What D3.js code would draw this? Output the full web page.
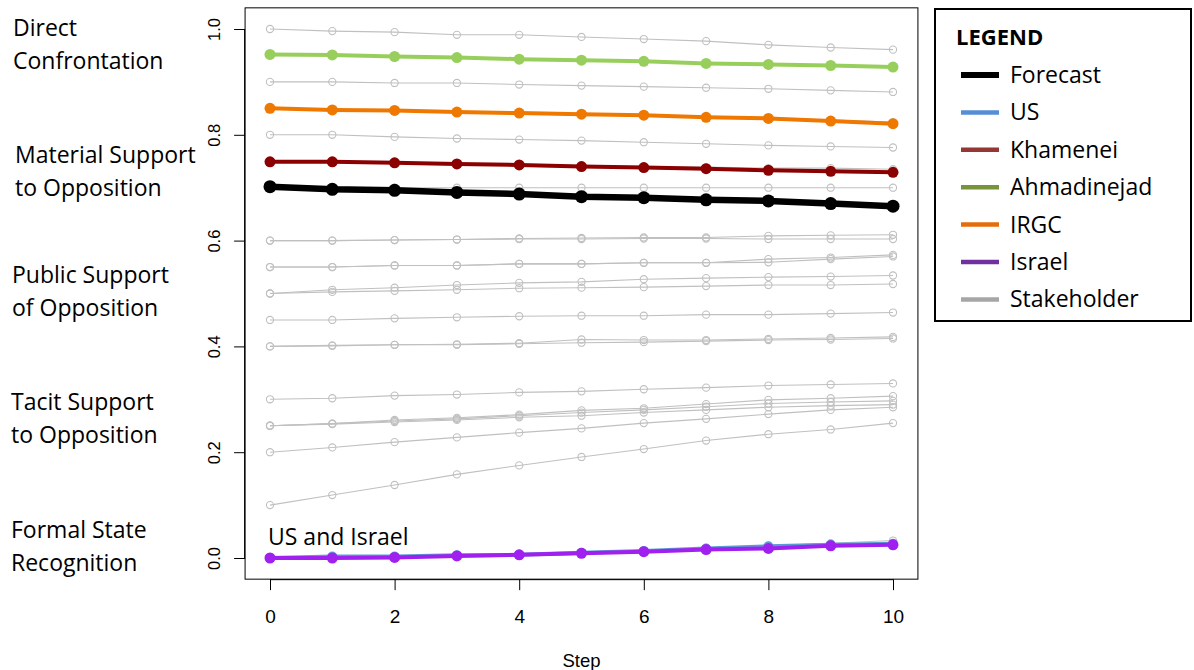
<!DOCTYPE html>
<html>
<head>
<meta charset="utf-8">
<script src="https://cdn.jsdelivr.net/npm/d3@7/dist/d3.min.js"></script>
<style>
  html, body { margin: 0; padding: 0; background: #fff; }
  svg { display: block; }
</style>
</head>
<body>
<svg id="chart" width="1194" height="670"></svg>
<script>
// ---------------- data ----------------
const steps = [0, 1, 2, 3, 4, 5, 6, 7, 8, 9, 10];
const xTicks = [0, 2, 4, 6, 8, 10];
const yTicks = [0.0, 0.2, 0.4, 0.6, 0.8, 1.0];

const forecast    = [0.702, 0.697, 0.695, 0.691, 0.688, 0.683, 0.681, 0.677, 0.675, 0.670, 0.665];
const usSeries    = [0.000, 0.003, 0.003, 0.005, 0.006, 0.010, 0.013, 0.018, 0.022, 0.025, 0.027];
const khamenei    = [0.749, 0.749, 0.747, 0.745, 0.743, 0.740, 0.738, 0.736, 0.733, 0.731, 0.729];
const ahmadinejad = [0.952, 0.951, 0.948, 0.946, 0.943, 0.941, 0.939, 0.935, 0.933, 0.931, 0.928];
const irgc        = [0.850, 0.847, 0.846, 0.843, 0.841, 0.839, 0.837, 0.833, 0.831, 0.826, 0.821];
const israel      = [0.000, 0.000, 0.001, 0.004, 0.006, 0.009, 0.012, 0.016, 0.018, 0.023, 0.025];

// stakeholder (gray) trajectories
const sh01 = [1.000, 0.996, 0.994, 0.989, 0.989, 0.985, 0.981, 0.977, 0.970, 0.965, 0.961];
const sh02 = [0.950, 0.950, 0.948, 0.946, 0.944, 0.942, 0.940, 0.936, 0.934, 0.932, 0.930];
const sh03 = [0.900, 0.900, 0.898, 0.898, 0.895, 0.893, 0.891, 0.889, 0.887, 0.884, 0.881];
const sh04 = [0.850, 0.848, 0.846, 0.844, 0.842, 0.840, 0.838, 0.834, 0.832, 0.828, 0.824];
const sh05 = [0.800, 0.800, 0.796, 0.793, 0.791, 0.789, 0.786, 0.783, 0.780, 0.778, 0.776];
const sh06 = [0.750, 0.750, 0.748, 0.746, 0.744, 0.742, 0.740, 0.739, 0.737, 0.737, 0.735];
const sh07 = [0.700, 0.700, 0.700, 0.700, 0.700, 0.700, 0.700, 0.700, 0.700, 0.700, 0.700];
const sh08 = [0.600, 0.600, 0.601, 0.602, 0.604, 0.605, 0.606, 0.606, 0.609, 0.610, 0.611];
const sh09 = [0.600, 0.600, 0.601, 0.602, 0.603, 0.603, 0.604, 0.604, 0.603, 0.603, 0.603];
const sh10 = [0.550, 0.550, 0.553, 0.553, 0.556, 0.556, 0.558, 0.558, 0.565, 0.568, 0.573];
const sh11 = [0.550, 0.550, 0.553, 0.553, 0.556, 0.556, 0.558, 0.558, 0.559, 0.565, 0.570];
const sh12 = [0.500, 0.507, 0.511, 0.516, 0.520, 0.522, 0.527, 0.529, 0.531, 0.532, 0.534];
const sh13 = [0.500, 0.503, 0.505, 0.507, 0.510, 0.511, 0.512, 0.514, 0.516, 0.516, 0.518];
const sh14 = [0.450, 0.450, 0.453, 0.455, 0.457, 0.458, 0.458, 0.460, 0.460, 0.462, 0.464];
const sh15 = [0.400, 0.401, 0.403, 0.404, 0.406, 0.413, 0.412, 0.412, 0.414, 0.416, 0.418];
const sh16 = [0.400, 0.402, 0.403, 0.403, 0.405, 0.407, 0.408, 0.410, 0.412, 0.413, 0.415];
const sh17 = [0.300, 0.302, 0.307, 0.309, 0.313, 0.315, 0.319, 0.322, 0.326, 0.328, 0.330];
const sh18 = [0.250, 0.254, 0.261, 0.265, 0.271, 0.279, 0.283, 0.291, 0.299, 0.302, 0.306];
const sh19 = [0.250, 0.254, 0.259, 0.263, 0.269, 0.275, 0.280, 0.286, 0.292, 0.295, 0.297];
const sh20 = [0.250, 0.253, 0.257, 0.261, 0.266, 0.269, 0.275, 0.280, 0.285, 0.288, 0.290];
const sh21 = [0.200, 0.209, 0.219, 0.228, 0.237, 0.245, 0.255, 0.263, 0.272, 0.280, 0.285];
const sh22 = [0.100, 0.119, 0.138, 0.158, 0.175, 0.191, 0.206, 0.222, 0.234, 0.243, 0.255];
const sh23 = [0.000, 0.002, 0.003, 0.005, 0.007, 0.011, 0.014, 0.019, 0.023, 0.028, 0.033];
const stakeholders = [sh01, sh02, sh03, sh04, sh05, sh06, sh07, sh08, sh09, sh10, sh11, sh12,
                      sh13, sh14, sh15, sh16, sh17, sh18, sh19, sh20, sh21, sh22, sh23];

const categoryLabels = [
  ["Direct", "Confrontation"],
  ["Material Support", "to Opposition"],
  ["Public Support", "of Opposition"],
  ["Tacit Support", "to Opposition"],
  ["Formal State", "Recognition"]
];
const legendNames = ["Forecast", "US", "Khamenei", "Ahmadinejad", "IRGC", "Israel", "Stakeholder"];
const legendColors = ["#000000", "#558ed5", "#953735", "#77933c", "#e46c0a", "#7030a0", "#a6a6a6"];

// ---------------- drawing ----------------
const svg = d3.select("#chart");
const x = d3.scaleLinear().domain([0, 10]).range([270, 893]);
const y = d3.scaleLinear().domain([0, 1]).range([558, 29]);

const grayCol = "#c0c0c0";
const line = d3.line().x((d, i) => x(steps[i])).y(d => y(d));

// gray stakeholder lines
const gG = svg.append("g");
stakeholders.forEach(s => {
  gG.append("path").attr("d", line(s)).attr("fill", "none")
    .attr("stroke", grayCol).attr("stroke-width", 1.1);
  gG.selectAll(null).data(s).enter().append("circle")
    .attr("cx", (d, i) => x(steps[i])).attr("cy", d => y(d)).attr("r", 3.6)
    .attr("fill", "none").attr("stroke", grayCol).attr("stroke-width", 1.1);
});

// colored actor lines
const actors = [
  {v: usSeries,    c: "#5b9bd5", w: 4, r: 5},
  {v: israel,      c: "#a020f0", w: 4, r: 5.5},
  {v: khamenei,    c: "#8b0000", w: 4, r: 5.5},
  {v: ahmadinejad, c: "#98cf5c", w: 4, r: 5.5},
  {v: irgc,        c: "#ef7800", w: 4, r: 5.5},
  {v: forecast,    c: "#000000", w: 6.5, r: 6.5}
];
actors.forEach(a => {
  const g = svg.append("g");
  g.append("path").attr("d", line(a.v)).attr("fill", "none")
    .attr("stroke", a.c).attr("stroke-width", a.w).attr("stroke-linejoin", "round");
  g.selectAll(null).data(a.v).enter().append("circle")
    .attr("cx", (d, i) => x(steps[i])).attr("cy", d => y(d)).attr("r", a.r)
    .attr("fill", a.c);
});

// plot box
const bx0 = x(-0.4), bx1 = x(10.4), by0 = y(1.04), by1 = y(-0.04);
svg.append("rect").attr("x", bx0).attr("y", by0).attr("width", bx1 - bx0).attr("height", by1 - by0)
  .attr("fill", "none").attr("stroke", "#000").attr("stroke-width", 1);

// x axis
const xAxis = d3.axisBottom(x).tickValues(xTicks).tickSize(11).tickPadding(19)
  .tickFormat(d3.format("d"));
const xa = svg.append("g").attr("transform", `translate(0,${by1})`).call(xAxis);
xa.select(".domain").attr("d", `M${x(0)},0.5H${x(10)}`);
xa.selectAll("text").attr("font-family", "Liberation Sans, Arial, sans-serif").attr("font-size", 19).attr("fill", "#000");
xa.selectAll("line").attr("stroke", "#000");

// y axis
const yAxis = d3.axisLeft(y).tickValues(yTicks).tickSize(11).tickPadding(0)
  .tickFormat(d3.format(".1f"));
const ya = svg.append("g").attr("transform", `translate(${bx0},0)`).call(yAxis);
ya.select(".domain").attr("d", `M-0.5,${y(0)}V${y(1)}`);
ya.selectAll("line").attr("stroke", "#000");
ya.selectAll("text")
  .attr("font-family", "Liberation Sans, Arial, sans-serif").attr("font-size", 16.5).attr("fill", "#000")
  .attr("x", null).attr("dy", null)
  .attr("text-anchor", "middle")
  .attr("transform", "translate(-31,0) rotate(-90)")
  .attr("dy", "0.35em");

// x label
svg.append("text").attr("x", (x(0) + x(10)) / 2).attr("y", 667)
  .attr("text-anchor", "middle").attr("font-family", "Liberation Sans, Arial, sans-serif")
  .attr("font-size", 18.5).text("Step");

// category labels on the left
const catFont = "Open Sans, sans-serif";
const catPos = [[13, 36], [15, 163], [12, 283], [11, 410], [11, 538]];
categoryLabels.forEach((lines, i) => {
  const t = svg.append("text").attr("font-family", catFont).attr("font-size", 23).attr("fill", "#000");
  lines.forEach((ln, j) => {
    t.append("tspan").attr("x", catPos[i][0]).attr("y", catPos[i][1] + j * 32.5).text(ln);
  });
});

// annotation
svg.append("text").attr("x", 268).attr("y", 545).attr("font-family", catFont)
  .attr("font-size", 23).attr("fill", "#000").text("US and Israel");

// legend
const lg = svg.append("g");
lg.append("rect").attr("x", 935).attr("y", 9).attr("width", 256).attr("height", 312)
  .attr("fill", "#fff").attr("stroke", "#000").attr("stroke-width", 2);
lg.append("text").attr("x", 956).attr("y", 45).attr("font-family", catFont)
  .attr("font-weight", "bold").attr("font-size", 22).text("LEGEND");
legendNames.forEach((n, i) => {
  const yy = 83 + i * 37.4;
  lg.append("line").attr("x1", 961).attr("x2", 999).attr("y1", yy - 8).attr("y2", yy - 8)
    .attr("stroke", legendColors[i]).attr("stroke-width", i === 0 ? 6 : 4.5);
  lg.append("text").attr("x", 1010).attr("y", yy).attr("font-family", catFont)
    .attr("font-size", 23).attr("fill", "#000").text(n);
});
</script>
</body>
</html>
